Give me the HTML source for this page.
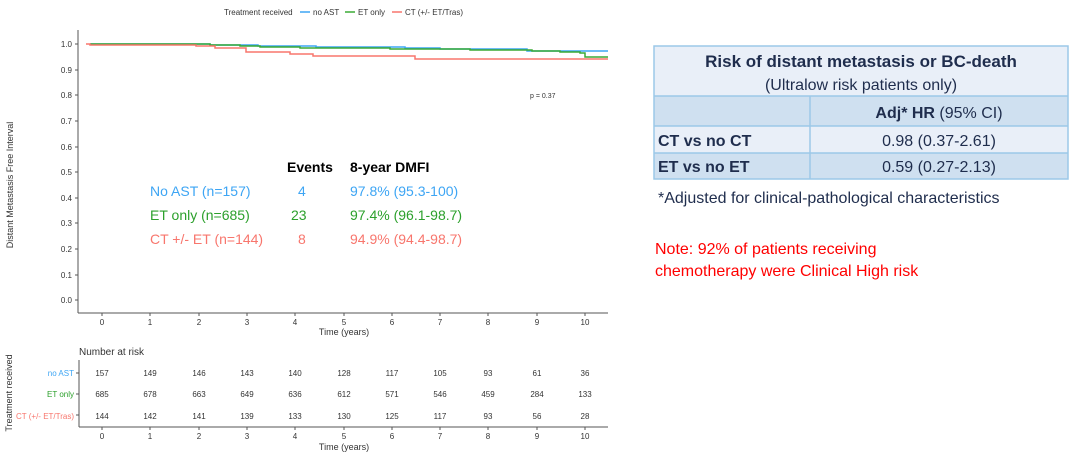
<!DOCTYPE html><html><head><style>body{margin:0;background:#fff;width:1080px;height:460px;overflow:hidden;font-family:"Liberation Sans",Arial,sans-serif}</style></head><body>
<svg width="1080" height="460" xmlns="http://www.w3.org/2000/svg" font-family="Liberation Sans, Arial, sans-serif">
<text x="224" y="15" font-size="8" fill="#333">Treatment received</text>
<line x1="300" y1="12" x2="310" y2="12" stroke="#3da5f4" stroke-width="1.5"/><text x="313" y="15" font-size="8" fill="#333">no AST</text>
<line x1="345" y1="12" x2="355" y2="12" stroke="#3aaa35" stroke-width="1.5"/><text x="358" y="15" font-size="8" fill="#333">ET only</text>
<line x1="392" y1="12" x2="402" y2="12" stroke="#f8766d" stroke-width="1.5"/><text x="405" y="15" font-size="8" fill="#333">CT (+/- ET/Tras)</text>
<line x1="78" y1="30" x2="78" y2="313" stroke="#555"/><line x1="78" y1="313" x2="608" y2="313" stroke="#555"/>
<g stroke="#555"><path d="M75 44h3M75 70h3M75 95h3M75 121h3M75 147h3M75 172h3M75 198h3M75 223h3M75 249h3M75 275h3M75 300h3"/>
<path d="M102 313v3M150 313v3M199 313v3M247 313v3M295 313v3M344 313v3M392 313v3M440 313v3M488 313v3M537 313v3M585 313v3"/>
<path d="M102 427v3M150 427v3M199 427v3M247 427v3M295 427v3M344 427v3M392 427v3M440 427v3M488 427v3M537 427v3M585 427v3M76 373h3M76 394h3M76 415h3"/></g>
<g font-size="8" fill="#333" text-anchor="end">
<text x="72" y="47">1.0</text><text x="72" y="73">0.9</text><text x="72" y="98">0.8</text><text x="72" y="124">0.7</text><text x="72" y="150">0.6</text><text x="72" y="175">0.5</text><text x="72" y="201">0.4</text><text x="72" y="226">0.3</text><text x="72" y="252">0.2</text><text x="72" y="278">0.1</text><text x="72" y="303">0.0</text></g>
<g font-size="8" fill="#333" text-anchor="middle">
<text x="102" y="325">0</text><text x="150" y="325">1</text><text x="199" y="325">2</text><text x="247" y="325">3</text><text x="295" y="325">4</text><text x="344" y="325">5</text><text x="392" y="325">6</text><text x="440" y="325">7</text><text x="488" y="325">8</text><text x="537" y="325">9</text><text x="585" y="325">10</text>
<text x="344" y="335" font-size="9">Time (years)</text></g>
<text transform="translate(13,185) rotate(-90)" font-size="9" fill="#333" text-anchor="middle">Distant Metastasis Free Interval</text>
<text x="530" y="98" font-size="7" fill="#333">p = 0.37</text>
<polyline fill="none" stroke="#3da5f4" stroke-width="1.5" points="90,44 210,44 210,45 258,45 258,46 316,46 316,47 405,47 405,48 440,48 440,49 527,49 527,51 608,51"/>
<polyline fill="none" stroke="#3aaa35" stroke-width="1.5" points="90,44 210,44 210,45 240,45 240,46 260,46 260,47 300,47 300,48 390,48 390,49 470,49 470,50 532,50 532,51 560,51 560,52 565,52 580,52 580,53 585,53 585,57 608,57"/>
<polyline fill="none" stroke="#f8766d" stroke-width="1.5" points="86,44 90,44 90,45 196,45 196,46 215,46 215,48 246,48 246,52 290,52 290,54 313,54 313,56 415,56 415,59 608,59"/>
<g font-size="14"><text x="287" y="172" font-weight="bold" fill="#000">Events</text><text x="350" y="172" font-weight="bold" fill="#000">8-year DMFI</text>
<text x="150" y="196" fill="#3da5f4">No AST (n=157)</text><text x="298" y="196" fill="#3da5f4">4</text><text x="350" y="196" fill="#3da5f4">97.8% (95.3-100)</text>
<text x="150" y="220" fill="#2ca02c">ET only (n=685)</text><text x="291" y="220" fill="#2ca02c">23</text><text x="350" y="220" fill="#2ca02c">97.4% (96.1-98.7)</text>
<text x="150" y="244" fill="#f8766d">CT +/- ET (n=144)</text><text x="298" y="244" fill="#f8766d">8</text><text x="350" y="244" fill="#f8766d">94.9% (94.4-98.7)</text></g>
<text x="79" y="355" font-size="10" fill="#333">Number at risk</text>
<line x1="79" y1="360" x2="79" y2="427" stroke="#555"/><line x1="79" y1="427" x2="608" y2="427" stroke="#555"/>
<g font-size="8" text-anchor="end"><text x="74" y="376" fill="#3da5f4">no AST</text><text x="74" y="397" fill="#2ca02c">ET only</text><text x="74" y="419" fill="#f8766d">CT (+/- ET/Tras)</text></g>
<text transform="translate(12,393) rotate(-90)" font-size="9" fill="#333" text-anchor="middle">Treatment received</text>
<g font-size="8" fill="#333" text-anchor="middle">
<text x="102" y="376">157</text><text x="150" y="376">149</text><text x="199" y="376">146</text><text x="247" y="376">143</text><text x="295" y="376">140</text><text x="344" y="376">128</text><text x="392" y="376">117</text><text x="440" y="376">105</text><text x="488" y="376">93</text><text x="537" y="376">61</text><text x="585" y="376">36</text>
<text x="102" y="397">685</text><text x="150" y="397">678</text><text x="199" y="397">663</text><text x="247" y="397">649</text><text x="295" y="397">636</text><text x="344" y="397">612</text><text x="392" y="397">571</text><text x="440" y="397">546</text><text x="488" y="397">459</text><text x="537" y="397">284</text><text x="585" y="397">133</text>
<text x="102" y="419">144</text><text x="150" y="419">142</text><text x="199" y="419">141</text><text x="247" y="419">139</text><text x="295" y="419">133</text><text x="344" y="419">130</text><text x="392" y="419">125</text><text x="440" y="419">117</text><text x="488" y="419">93</text><text x="537" y="419">56</text><text x="585" y="419">28</text>
<text x="102" y="439">0</text><text x="150" y="439">1</text><text x="199" y="439">2</text><text x="247" y="439">3</text><text x="295" y="439">4</text><text x="344" y="439">5</text><text x="392" y="439">6</text><text x="440" y="439">7</text><text x="488" y="439">8</text><text x="537" y="439">9</text><text x="585" y="439">10</text>
<text x="344" y="450" font-size="9">Time (years)</text></g>
<rect x="654" y="46" width="414" height="50" fill="#e9eff8"/>
<rect x="654" y="96" width="414" height="30" fill="#cfe0f0"/>
<rect x="654" y="126" width="414" height="27" fill="#e9eff8"/>
<rect x="654" y="153" width="414" height="26" fill="#cfe0f0"/>
<g stroke="#9cc8e8" stroke-width="1.5" fill="none"><rect x="654" y="46" width="414" height="133"/><line x1="654" y1="96" x2="1068" y2="96"/><line x1="654" y1="126" x2="1068" y2="126"/><line x1="654" y1="153" x2="1068" y2="153"/><line x1="810" y1="96" x2="810" y2="179"/></g>
<g font-size="17" fill="#1f2d4d" text-anchor="middle"><text x="861" y="67" font-weight="bold">Risk of distant metastasis or BC-death</text><text x="861" y="90" font-size="16">(Ultralow risk patients only)</text>
<text x="939" y="118" font-size="16"><tspan font-weight="bold">Adj* HR</tspan> (95% CI)</text><text x="939" y="146" font-size="16">0.98 (0.37-2.61)</text><text x="939" y="172" font-size="16">0.59 (0.27-2.13)</text></g>
<g font-size="16" fill="#1f2d4d" font-weight="bold"><text x="658" y="146">CT vs no CT</text><text x="658" y="172">ET vs no ET</text></g>
<text x="658" y="203" font-size="16" fill="#1f2d4d">*Adjusted for clinical-pathological characteristics</text>
<text x="655" y="254" font-size="16" fill="#ff0000">Note: 92% of patients receiving</text>
<text x="655" y="276" font-size="16" fill="#ff0000">chemotherapy were Clinical High risk</text>
</svg></body></html>
